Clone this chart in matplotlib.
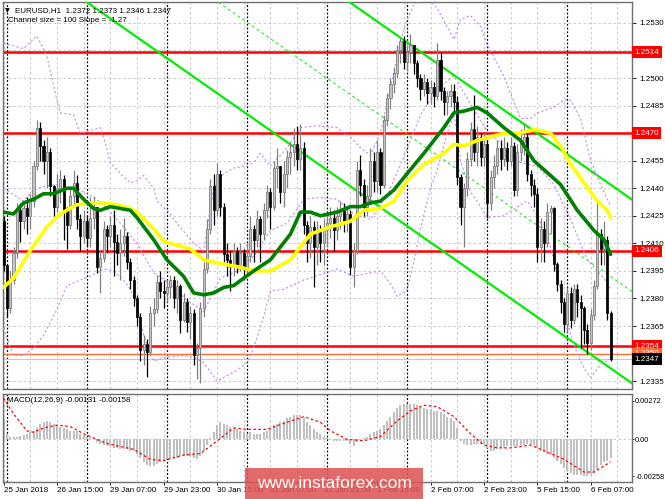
import matplotlib
matplotlib.use("Agg")
import matplotlib.pyplot as plt
import matplotlib.transforms as mtransforms
from matplotlib.patches import Rectangle

# EURUSD H1 candles, 25 Jan 23:00 -> 6 Feb 14:00
first_open = 1.2422
close = [1.2398, 1.2375, 1.2390, 1.2405, 1.2428, 1.2422, 1.2429, 1.2425, 1.2433, 1.2452,
         1.2473, 1.2463, 1.2455, 1.2460, 1.2441, 1.2430, 1.2440, 1.2445, 1.2428, 1.2420,
         1.2436, 1.2443, 1.2423, 1.2414, 1.2422, 1.2413, 1.2424, 1.2430, 1.2397, 1.2402,
         1.2418, 1.2414, 1.2420, 1.2411, 1.2405, 1.2410, 1.2414, 1.2400, 1.2390, 1.2380,
         1.2370, 1.2352, 1.2355, 1.2351, 1.2372, 1.2374, 1.2389, 1.2384, 1.2383, 1.2386,
         1.2390, 1.2380, 1.2387, 1.2368, 1.2378, 1.2367, 1.2372, 1.2349, 1.2353, 1.2375,
         1.2396, 1.2418, 1.2441, 1.2428, 1.2448, 1.2430, 1.2404, 1.2401, 1.2398, 1.2406,
         1.2398, 1.2405, 1.2396, 1.2403, 1.2418, 1.2412, 1.2423, 1.2415, 1.2428, 1.2438,
         1.2430, 1.2451, 1.2452, 1.2438, 1.2448, 1.2457, 1.2460, 1.2464, 1.2456, 1.2462,
         1.2420, 1.2410, 1.2419, 1.2408, 1.2416, 1.2410, 1.2418, 1.2421, 1.2424, 1.2417,
         1.2425, 1.2428, 1.2422, 1.2426, 1.2397, 1.2406, 1.2450, 1.2442, 1.2430, 1.2436,
         1.2455, 1.2444, 1.2460, 1.2442, 1.2477, 1.2489, 1.2497, 1.2503, 1.2515, 1.2520,
         1.2509, 1.2514, 1.2518, 1.2508, 1.2500, 1.2494, 1.2498, 1.2492, 1.2495, 1.2490,
         1.2510, 1.2493, 1.2487, 1.2490, 1.2493, 1.2487, 1.2446, 1.2430, 1.2440, 1.2456,
         1.2472, 1.2460, 1.2468, 1.2457, 1.2464, 1.2432, 1.2446, 1.2452, 1.2462, 1.2456,
         1.2462, 1.2455, 1.2463, 1.2439, 1.2460, 1.2465, 1.2468, 1.2448, 1.2442, 1.2437,
         1.2408, 1.2418, 1.2410, 1.2427, 1.2429, 1.2399, 1.2388, 1.2378, 1.2366, 1.2383,
         1.2368, 1.2385, 1.2378, 1.2375, 1.2363, 1.2356, 1.2371, 1.2387, 1.2415, 1.2407,
         1.2412, 1.2372, 1.2347]
high = [1.2425, 1.2398, 1.2395, 1.2408, 1.2432, 1.2432, 1.2433, 1.2435, 1.2437, 1.2455,
        1.2477, 1.2476, 1.2466, 1.2468, 1.2462, 1.2442, 1.2448, 1.2450, 1.2447, 1.2430,
        1.2440, 1.2450, 1.2447, 1.2426, 1.2428, 1.2425, 1.2435, 1.2436, 1.2430, 1.2406,
        1.2422, 1.2420, 1.2425, 1.2428, 1.2415, 1.2418, 1.2424, 1.2416, 1.2402, 1.2392,
        1.2382, 1.2372, 1.2360, 1.2358, 1.2376, 1.2380, 1.2393, 1.2395, 1.2390, 1.2390,
        1.2393, 1.2392, 1.2390, 1.2388, 1.2383, 1.2380, 1.2376, 1.2374, 1.2356, 1.2378,
        1.2400, 1.2423, 1.2445, 1.2448, 1.2454, 1.2450, 1.2432, 1.2410, 1.2406, 1.2410,
        1.2408, 1.2410, 1.2407, 1.2410, 1.2425, 1.2420, 1.2428, 1.2425, 1.2432, 1.2442,
        1.2440, 1.2455, 1.2462, 1.2452, 1.2455, 1.2461, 1.2465, 1.2473, 1.2474, 1.2475,
        1.2465, 1.2422, 1.2425, 1.2422, 1.2422, 1.2420, 1.2423, 1.2426, 1.2430, 1.2428,
        1.2430, 1.2433, 1.2432, 1.2430, 1.2428, 1.2410, 1.2455, 1.2458, 1.2445, 1.2442,
        1.2462, 1.2460, 1.2466, 1.2462, 1.2480, 1.2492, 1.2500, 1.2506, 1.2518, 1.2522,
        1.2523, 1.2518, 1.2524, 1.2518, 1.2510, 1.2502, 1.2502, 1.2500, 1.2499, 1.2498,
        1.2519, 1.2514, 1.2495, 1.2493, 1.2497, 1.2497, 1.2490, 1.2448, 1.2443, 1.2460,
        1.2476, 1.2491, 1.2474, 1.2470, 1.2470, 1.2466, 1.2450, 1.2458, 1.2466, 1.2466,
        1.2468, 1.2465, 1.2468, 1.2465, 1.2464, 1.2472, 1.2475, 1.2470, 1.2450, 1.2445,
        1.2440, 1.2424, 1.2422, 1.2432, 1.2431, 1.2430, 1.2400, 1.2390, 1.2380, 1.2386,
        1.2386, 1.2388, 1.2388, 1.2382, 1.2376, 1.2366, 1.2374, 1.2390, 1.2433, 1.2418,
        1.2422, 1.2414, 1.2373]
low = [1.2395, 1.2370, 1.2372, 1.2388, 1.2402, 1.2411, 1.2418, 1.2415, 1.2418, 1.2430,
       1.2450, 1.2455, 1.2448, 1.2440, 1.2436, 1.2425, 1.2427, 1.2432, 1.2412, 1.2407,
       1.2418, 1.2430, 1.2418, 1.2406, 1.2410, 1.2408, 1.2408, 1.2418, 1.2394, 1.2383,
       1.2400, 1.2405, 1.2408, 1.2392, 1.2398, 1.2390, 1.2403, 1.2396, 1.2385, 1.2376,
       1.2365, 1.2346, 1.2344, 1.2337, 1.2349, 1.2365, 1.2372, 1.2380, 1.2375, 1.2378,
       1.2380, 1.2375, 1.2372, 1.2361, 1.2367, 1.2362, 1.2358, 1.2344, 1.2336, 1.2334,
       1.2370, 1.2394, 1.2415, 1.2420, 1.2425, 1.2425, 1.2400, 1.2392, 1.2384, 1.2392,
       1.2394, 1.2395, 1.2390, 1.2392, 1.2400, 1.2400, 1.2408, 1.2400, 1.2412, 1.2424,
       1.2418, 1.2428, 1.2440, 1.2432, 1.2430, 1.2440, 1.2448, 1.2452, 1.2450, 1.2450,
       1.2415, 1.2400, 1.2402, 1.2386, 1.2398, 1.2400, 1.2398, 1.2408, 1.2413, 1.2406,
       1.2412, 1.2418, 1.2416, 1.2416, 1.2393, 1.2386, 1.2404, 1.2436, 1.2425, 1.2425,
       1.2432, 1.2438, 1.2438, 1.2437, 1.2440, 1.2474, 1.2483, 1.2492, 1.2500, 1.2508,
       1.2505, 1.2504, 1.2508, 1.2502, 1.2495, 1.2488, 1.2490, 1.2486, 1.2486, 1.2484,
       1.2488, 1.2488, 1.2480, 1.2480, 1.2484, 1.2482, 1.2442, 1.2420, 1.2408, 1.2436,
       1.2452, 1.2455, 1.2452, 1.2452, 1.2452, 1.2424, 1.2428, 1.2440, 1.2448, 1.2450,
       1.2452, 1.2450, 1.2452, 1.2436, 1.2436, 1.2455, 1.2458, 1.2444, 1.2436, 1.2430,
       1.2400, 1.2400, 1.2400, 1.2408, 1.2415, 1.2395, 1.2384, 1.2372, 1.2362, 1.2362,
       1.2364, 1.2366, 1.2370, 1.2353, 1.2355, 1.2350, 1.2352, 1.2368, 1.2385, 1.2398,
       1.2398, 1.2368, 1.2346]
opens = [first_open] + close[:-1]

# moving averages, sampled along the bars (bar index, price)
green_ma_x = [0, 3, 6, 9, 12, 15, 19, 21, 24, 27, 29, 32, 35, 38, 40, 45, 49, 54, 57, 60,
              63, 66, 69, 72, 75, 80, 86, 89, 92, 95, 100, 104, 107, 110, 113, 117, 121, 126,
              132, 135, 138, 142, 145, 150, 155, 159, 167, 172, 177, 180, 182]
green_ma = [1.2427, 1.2426, 1.2432, 1.2434, 1.2437, 1.2437, 1.2440, 1.2440, 1.2434, 1.2429,
            1.2428, 1.2430, 1.2429, 1.2428, 1.2424, 1.2412, 1.2401, 1.2392, 1.2383, 1.2382,
            1.2383, 1.2386, 1.2387, 1.2391, 1.2395, 1.2401, 1.2415, 1.2427, 1.2427, 1.2425,
            1.2427, 1.2430, 1.2430, 1.2432, 1.2433, 1.2439, 1.2448, 1.2459, 1.2473, 1.2481,
            1.2482, 1.2484, 1.2481, 1.2473, 1.2466, 1.2455, 1.2442, 1.2428, 1.2417, 1.2412,
            1.2404]
yellow_ma_x = [0, 3, 8, 13, 17, 22, 26, 30, 34, 38, 40, 45, 48, 52, 56, 60, 65, 71, 75, 80,
               86, 92, 98, 104, 108, 113, 117, 121, 126, 132, 135, 138, 142, 146, 150, 155,
               159, 164, 167, 170, 174, 178, 181, 182]
yellow_ma = [1.2386, 1.2391, 1.2406, 1.2419, 1.2426, 1.2431, 1.2432, 1.2432, 1.2431, 1.2429,
             1.2427, 1.2418, 1.2411, 1.2409, 1.2407, 1.2401, 1.2399, 1.2397, 1.2395, 1.2395,
             1.2401, 1.2415, 1.2419, 1.2422, 1.2428, 1.2429, 1.2433, 1.2444, 1.2453, 1.2459,
             1.2464, 1.2463, 1.2466, 1.2468, 1.2470, 1.2470, 1.2472, 1.2470, 1.2463, 1.2453,
             1.2443, 1.2433, 1.2428, 1.2424]

# Bollinger bands (dotted violet): upper, middle, lower, sampled
band_up_x = [0, 6, 10, 13, 16, 17, 21, 23, 27, 29, 30, 32, 35, 38, 40, 42, 45, 46, 49, 52,
             57, 60, 63, 66, 69, 72, 75, 77, 80, 85, 89, 94, 100, 104, 107, 110, 113, 116,
             119, 121, 123, 125, 128, 130, 133, 135, 137, 140, 143, 145, 148, 150, 153, 155,
             158, 160, 165, 168, 170, 173, 176, 179, 182]
band_up = [1.2519, 1.2516, 1.2523, 1.2512, 1.2488, 1.2481, 1.2480, 1.2470, 1.2472, 1.2473,
           1.2468, 1.2454, 1.2448, 1.2443, 1.2444, 1.2447, 1.2440, 1.2433, 1.2428, 1.2421,
           1.2410, 1.2406, 1.2440, 1.2448, 1.2451, 1.2452, 1.2454, 1.2459, 1.2452, 1.2462,
           1.2473, 1.2474, 1.2473, 1.2468, 1.2462, 1.2458, 1.2470, 1.2495, 1.2520, 1.2532,
           1.2540, 1.2542, 1.2542, 1.2538, 1.2528, 1.2521, 1.2532, 1.2534, 1.2528, 1.2518,
           1.2508, 1.2501, 1.2487, 1.2478, 1.2478, 1.2481, 1.2484, 1.2488, 1.2488, 1.2478,
           1.2455, 1.2442, 1.2430]
band_mid_x = [0, 6, 9, 12, 16, 19, 23, 27, 30, 35, 40, 45, 50, 55, 60, 65, 70, 75, 80, 85,
              90, 95, 100, 105, 110, 115, 120, 125, 130, 135, 140, 145, 150, 155, 160, 165,
              170, 175, 180, 182]
band_mid = [1.2440, 1.2433, 1.2439, 1.2441, 1.2442, 1.2440, 1.2439, 1.2435, 1.2431, 1.2421,
            1.2410, 1.2394, 1.2388, 1.2379, 1.2373, 1.2391, 1.2395, 1.2403, 1.2417, 1.2421,
            1.2434, 1.2435, 1.2434, 1.2426, 1.2423, 1.2436, 1.2457, 1.2480, 1.2494, 1.2501,
            1.2486, 1.2471, 1.2463, 1.2454, 1.2452, 1.2442, 1.2423, 1.2401, 1.2391, 1.2385]
band_lo_x = [0, 3, 6, 9, 12, 16, 19, 23, 27, 30, 33, 36, 38, 40, 42, 45, 49, 54, 57, 60,
             62, 64, 67, 70, 73, 75, 78, 80, 84, 90, 95, 100, 105, 110, 113, 116, 118, 121,
             123, 125, 128, 130, 133, 135, 136, 137, 140, 143, 145, 150, 155, 157, 160, 164,
             167, 170, 172, 174, 176, 179, 182]
band_lo = [1.2364, 1.2349, 1.2349, 1.2353, 1.2360, 1.2374, 1.2387, 1.2390, 1.2393, 1.2396,
           1.2395, 1.2390, 1.2385, 1.2377, 1.2360, 1.2346, 1.2348, 1.2349, 1.2348, 1.2345,
           1.2340, 1.2335, 1.2338, 1.2341, 1.2345, 1.2353, 1.2370, 1.2384, 1.2385, 1.2390,
           1.2393, 1.2396, 1.2392, 1.2394, 1.2395, 1.2388, 1.2381, 1.2385, 1.2400, 1.2418,
           1.2440, 1.2450, 1.2470, 1.2480, 1.2470, 1.2455, 1.2438, 1.2430, 1.2424, 1.2425,
           1.2431, 1.2433, 1.2425, 1.2408, 1.2385, 1.2360, 1.2350, 1.2342, 1.2337, 1.2344,
           1.2347]

# regression channel: lower line end point, slope per bar, width
chan_end_x = 188.4
chan_end_low = 1.23338
chan_slope = -0.000127
chan_size = 0.0100
chan_start_x = 0

levels_red = [1.2514, 1.2470, 1.2406, 1.2354]
level_orange = 1.2350
bid = 1.2347
price_ticks = [1.2530, 1.2515, 1.2500, 1.2485, 1.2470, 1.2455, 1.2440, 1.2425, 1.2410,
               1.2395, 1.2380, 1.2365, 1.2350, 1.2335]
price_labels = ["1.2530", "", "1.2500", "1.2485", "", "1.2455", "1.2440", "1.2425", "1.2410",
                "1.2395", "1.2380", "1.2365", "", "1.2335"]

# MACD(12,26,9) histogram per bar and the signal line
macd = [0.00145, 0.0004, 0.00015, 0.0002, 0.0002, 0.00025, 0.0003, 0.0004, 0.0005, 0.0006,
        0.0008, 0.0011, 0.0012, 0.0013, 0.0012, 0.0011, 0.0010, 0.0009, 0.0008, 0.0007,
        0.0006, 0.0006, 0.0006, 0.0004, 0.0003, 0.0002, 0.0001, 0.0000, -0.0002, -0.0003,
        -0.0004, -0.0004, -0.0005, -0.0006, -0.0006, -0.0007, -0.0007, -0.0007, -0.0008, -0.0008,
        -0.0010, -0.0013, -0.0016, -0.0018, -0.0019, -0.0019, -0.0017, -0.0016, -0.0015, -0.0014,
        -0.0014, -0.0013, -0.0013, -0.0012, -0.0012, -0.0012, -0.0012, -0.0013, -0.0014, -0.0012,
        -0.0008, -0.0004, 0.0001, 0.0005, 0.0010, 0.0012, 0.0011, 0.0010, 0.0009, 0.0008,
        0.0007, 0.0006, 0.0005, 0.0004, 0.0005, 0.0004, 0.0004, 0.0004, 0.0005, 0.0006,
        0.0008, 0.0010, 0.0011, 0.0012, 0.0013, 0.0015, 0.0016, 0.0017, 0.0017, 0.0017,
        0.0015, 0.0012, 0.0010, 0.0007, 0.0005, 0.0004, 0.0002, 0.0001, 0.0000, -0.0001,
        -0.0001, -0.0001, -0.0001, -0.0001, -0.0003, -0.0005, -0.0002, 0.0000, 0.0001, 0.0002,
        0.0004, 0.0005, 0.0006, 0.0007, 0.0010, 0.0013, 0.0016, 0.0019, 0.0022, 0.0024,
        0.0025, 0.0025, 0.0025, 0.0025, 0.0024, 0.0023, 0.0022, 0.0021, 0.0021, 0.0020,
        0.0020, 0.0019, 0.0018, 0.0016, 0.0015, 0.0013, 0.0008, -0.0001, -0.0003, -0.0004,
        -0.0004, -0.0003, -0.0003, -0.0003, -0.0003, -0.0006, -0.0008, -0.0008, -0.0007, -0.0006,
        -0.0006, -0.0005, -0.0005, -0.0005, -0.0005, -0.0004, -0.0004, -0.0003, -0.0003, -0.0004,
        -0.0006, -0.0008, -0.0009, -0.0010, -0.0011, -0.0013, -0.0015, -0.0017, -0.0020, -0.0022,
        -0.0024, -0.0025, -0.0025, -0.0025, -0.0026, -0.0026, -0.0025, -0.0024, -0.0021, -0.0018,
        -0.0016, -0.0015, -0.00131]
signal_x = [0, 3, 7, 9, 12, 16, 20, 24, 31, 39, 44, 48, 54, 59, 63, 69, 73, 79, 85, 90,
            95, 98, 103, 108, 113, 118, 122, 126, 130, 135, 140, 144, 148, 152, 158, 163, 168,
            174, 177, 182]
signal = [0.0029, 0.0018, 0.0006, 0.0005, 0.0008, 0.0010, 0.0009, 0.0004, -0.0003, -0.0007,
          -0.0014, -0.0015, -0.0011, -0.0010, -0.0003, 0.0008, 0.0007, 0.0007, 0.0012, 0.0016,
          0.0012, 0.0006, 0.0000, -0.0001, 0.0002, 0.0013, 0.0020, 0.0024, 0.0023, 0.0016,
          0.0004, -0.0004, -0.0006, -0.0006, -0.0004, -0.0009, -0.0014, -0.0023, -0.0023, -0.00158]

tick_bars = [0, 16, 32, 48, 64, 80, 96, 112, 128, 144, 160, 176]
tick_labels = ["25 Jan 2018", "26 Jan 15:00", "29 Jan 07:00", "29 Jan 23:00", "30 Jan 15:00",
               "31 Jan 07:00", "31 Jan 23:00", "1 Feb 15:00", "2 Feb 07:00", "2 Feb 23:00",
               "5 Feb 15:00", "6 Feb 07:00"]
day_starts = [1, 25, 49, 73, 97, 121, 145, 169]

W, H = 665, 499
def fx(x):
    return x / W
def fy(y):
    return 1 - y / H

plt.rcParams['font.family'] = ['Liberation Sans', 'DejaVu Sans']
FS = 5.8
fig = plt.figure(figsize=(W / 100, H / 100), dpi=100)
fig.patch.set_facecolor('white')
ax = fig.add_axes([fx(3), fy(389), fx(629), 387 / H])
ax2 = fig.add_axes([fx(3), fy(482), fx(629), 88 / H])

xlim = (-0.15, 188.4)
grid_kw = dict(color='#c0c0c0', lw=0.6, ls=(0, (3, 3)), zorder=0)
sep_kw = dict(color='black', lw=0.9, ls=(0, (1.5, 1.5)), zorder=0.5)

# ---- main panel ----
for p in price_ticks:
    ax.axhline(p, **grid_kw)
for b in range(0, 189, 8):
    ax.axvline(b, **grid_kw)
    ax2.axvline(b, **grid_kw)
for b in day_starts:
    ax.axvline(b, **sep_kw)
    ax2.axvline(b, **sep_kw)

for p in levels_red:
    ax.axhline(p, color='#ff0000', lw=1.8, zorder=2)
ax.axhline(level_orange, color='#ff6a30', lw=1.0, zorder=2)
ax.axhline(bid, color='#c8c8c8', lw=0.8, zorder=2)

# channel
cx = [chan_start_x, xlim[1]]
low_line = [chan_end_low + chan_slope * (x - chan_end_x) for x in cx]
ax.plot(cx, low_line, color='#00ee00', lw=1.6, zorder=3)
ax.plot(cx, [v + chan_size for v in low_line], color='#00ee00', lw=1.6, zorder=3)
ax.plot(cx, [v + chan_size / 2 for v in low_line], color='#00ee00', lw=0.7,
        ls=(0, (3, 3)), zorder=3)

# bands
band_kw = dict(color='#c68ce8', lw=0.8, ls=(0, (2, 2)), zorder=3)
ax.plot(band_up_x, band_up, **band_kw)
ax.plot(band_mid_x, band_mid, **band_kw)
ax.plot(band_lo_x, band_lo, **band_kw)

# candles
for i in range(len(close)):
    o, c, h, l = opens[i], close[i], high[i], low[i]
    up = c >= o
    ax.vlines(i, l, h, color='#808080' if up else 'black', lw=0.9, zorder=4)
    ax.bar(i, max(abs(c - o), 0.00004), bottom=min(o, c), width=0.62,
           color='#c4c4c4' if up else 'black', edgecolor='#707070' if up else 'black',
           lw=0.5, zorder=5)

ax.plot(yellow_ma_x, yellow_ma, color='#ffff00', lw=2.6, zorder=6, solid_capstyle='round')
ax.plot(green_ma_x, green_ma, color='#008000', lw=2.6, zorder=6, solid_capstyle='round')

ax.set_xlim(*xlim)
ax.set_ylim(1.23307, 1.25414)
ax.yaxis.tick_right()
ax.set_yticks(price_ticks)
ax.set_yticklabels(price_labels)
ax.tick_params(axis='y', length=3, width=0.6, labelsize=FS, pad=2, colors='black')
ax.tick_params(axis='x', length=0, labelbottom=False)
for s in ax.spines.values():
    s.set_color('#707070')
    s.set_linewidth(1.0)

trans = mtransforms.blended_transform_factory(ax.transAxes, ax.transData)
box_kw = dict(transform=trans, color='white', fontsize=FS, va='center', ha='left',
              zorder=10, clip_on=False)
for p in levels_red:
    ax.text(1.004, p, f"{p:.4f}", bbox=dict(boxstyle='square,pad=0.3', fc='#ff0000', ec='none'),
            **box_kw)
ax.text(1.004, level_orange, f"{level_orange:.4f}",
        bbox=dict(boxstyle='square,pad=0.3', fc='#ff6a30', ec='none'), **box_kw)
ax.text(1.004, bid, f"{bid:.4f}", bbox=dict(boxstyle='square,pad=0.3', fc='black', ec='none'),
        **box_kw)

# ---- MACD panel ----
ax2.axhline(0, **grid_kw)
ax2.bar(range(len(macd)), macd, width=0.6, color='#c0c0c0', zorder=2)
ax2.plot(signal_x, signal, color='#ff0000', lw=0.9, ls=(0, (2, 2)), zorder=3)
ax2.set_xlim(*xlim)
ax2.set_ylim(-0.00300, 0.00319)
ax2.yaxis.tick_right()
ax2.set_yticks([0.00272, 0.0, -0.00258])
ax2.set_yticklabels(["0.00272", "0.00", "-0.00258"])
ax2.tick_params(axis='y', length=1.5, width=0.6, labelsize=5.3, pad=0.8)
ax2.set_xticks(tick_bars)
ax2.set_xticklabels(tick_labels, ha='left')
ax2.tick_params(axis='x', length=2, width=0.6, labelsize=FS, pad=1.5)
for s in ax2.spines.values():
    s.set_color('#707070')
    s.set_linewidth(1.0)

# header texts
fig.text(fx(5), fy(11), "\u25bc", fontsize=4.5, va='center', ha='left',
         family='DejaVu Sans')
fig.text(fx(15), fy(11), "EURUSD,H1  1.2372 1.2373 1.2346 1.2347", fontsize=FS,
         va='center', ha='left')
fig.text(fx(8), fy(20), "Channel size = 100 Slope = -1.27", fontsize=FS,
         va='center', ha='left')
fig.text(fx(7), fy(401), "MACD(12,26,9) -0.00131 -0.00158", fontsize=FS,
         va='center', ha='left')

# watermark
fig.patches.append(Rectangle((fx(245), 0), fx(178), 31 / H, transform=fig.transFigure,
                             fc='#e05555', ec='none', alpha=0.88, zorder=20))
fig.text(fx(334), fy(484), "www.instaforex.com", color='white', fontsize=12.5,
         ha='center', va='center', zorder=21)

fig.savefig("out.png", dpi=100)
